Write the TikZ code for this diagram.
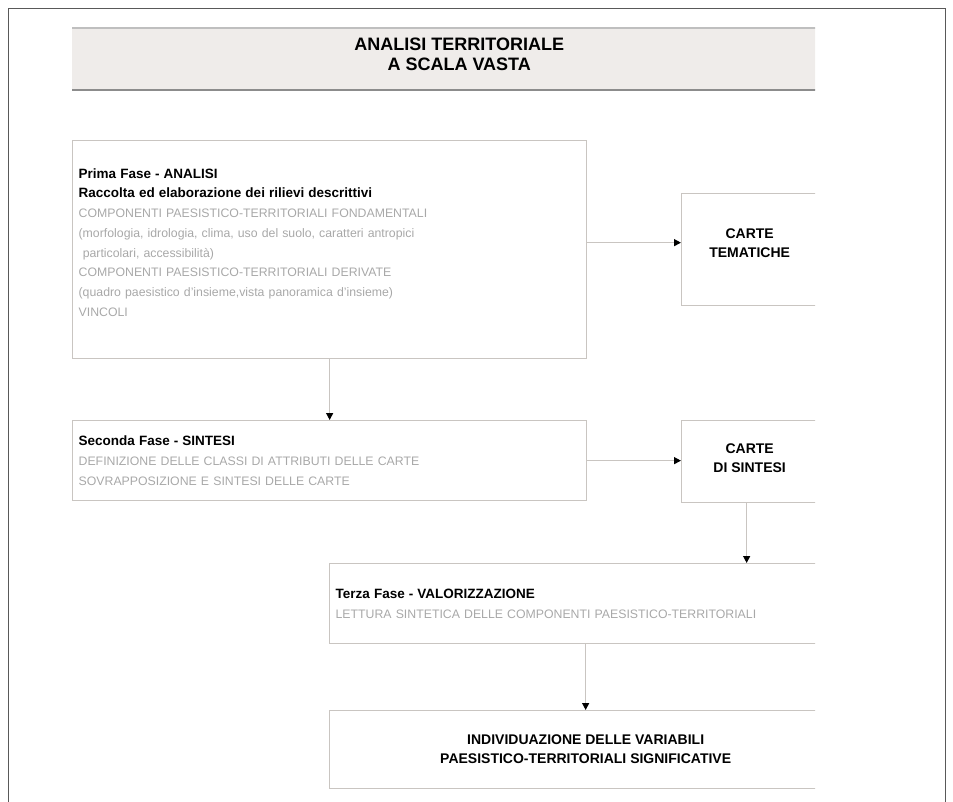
\documentclass[tikz,border=0pt]{standalone}
\usepackage{fontspec}
\setmainfont{Liberation Sans}
\usetikzlibrary{arrows.meta}
\definecolor{boxline}{HTML}{C9C5C1}
\definecolor{softtext}{HTML}{A8A8A8}
\definecolor{headfill}{HTML}{EFECEA}
\newcommand{\fasetesto}[1]{{\bfseries\fontsize{13.5}{19.5}\selectfont #1}}
\newcommand{\voce}[1]{\textcolor{softtext}{#1}}

\begin{document}
\begin{tikzpicture}[x=1pt,y=-1pt,
		fase/.style={draw=boxline,line width=1.3pt,anchor=north west,align=left,
			inner xsep=6pt,font=\fontsize{12.3}{19.7}\selectfont},
		esito/.style={draw=boxline,line width=1.3pt,anchor=north west,align=center,
			font=\bfseries\fontsize{14}{19}\selectfont},
		flow/.style={draw=boxline,line width=1.3pt,-{Triangle[black,length=7pt,width=7pt]}}]
	\useasboundingbox (0,0) rectangle (953,802);
	\draw[black!65,line width=0.8pt] (8,802) -- (8,8) -- (945,8) -- (945,802);
	\begin{scope}
		\clip (0,0) rectangle (815,802);
		\node[fill=headfill,minimum width=774pt,minimum height=62pt,anchor=north west,
			align=center,font=\bfseries\fontsize{18}{20}\selectfont] (titolo) at (72,28)
			{ANALISI TERRITORIALE\\A SCALA VASTA\\[-10pt]\mbox{}};
		\draw[black!25,line width=1.5pt] (titolo.north west) -- (titolo.north east);
		\draw[black!45,line width=2pt] (titolo.south west) -- (titolo.south east);
		\node[fase,text width=502pt,minimum height=218pt] (prima) at (72,140)
			{\fasetesto{Prima Fase - ANALISI}\\
			\fasetesto{Raccolta ed elaborazione dei rilievi descrittivi}\\
			\voce{COMPONENTI PAESISTICO-TERRITORIALI FONDAMENTALI}\\
			\voce{(morfologia, idrologia, clima, uso del suolo, caratteri antropici}\\
			\voce{\ particolari, accessibilità)}\\
			\voce{COMPONENTI PAESISTICO-TERRITORIALI DERIVATE}\\
			\voce{(quadro paesistico d'insieme,vista panoramica d'insieme)}\\
			\voce{VINCOLI}\\[-5pt]\mbox{}};
		\node[esito,minimum width=136pt,minimum height=112pt] (tematiche) at (681,193)
			{CARTE\\TEMATICHE\\[-5pt]\mbox{}};
		\node[fase,text width=502pt,minimum height=80pt] (seconda) at (72,420)
			{\fasetesto{Seconda Fase - SINTESI}\\
			\voce{DEFINIZIONE DELLE CLASSI DI ATTRIBUTI DELLE CARTE}\\
			\voce{SOVRAPPOSIZIONE E SINTESI DELLE CARTE}};
		\node[esito,minimum width=136pt,minimum height=82pt] (sintesi) at (681,420)
			{CARTE\\DI SINTESI\\[-12pt]\mbox{}};
		\node[fase,text width=500pt,minimum height=80pt] (terza) at (329,563)
			{\fasetesto{Terza Fase - VALORIZZAZIONE}\\
			\voce{LETTURA SINTETICA DELLE COMPONENTI PAESISTICO-TERRITORIALI}};
		\node[esito,minimum width=512pt,minimum height=78pt] (variabili) at (329,710)
			{INDIVIDUAZIONE DELLE VARIABILI\\PAESISTICO-TERRITORIALI SIGNIFICATIVE};
	\end{scope}
	\draw[flow] ([yshift=7pt]prima.east) -- ([yshift=7pt]prima.east -| tematiche.west);
	\draw[flow] (prima.south) -- (seconda.north);
	\draw[flow] (seconda.east) -- (seconda.east -| sintesi.west);
	\draw[flow] ([xshift=-3pt]sintesi.south) -- ([xshift=-3pt]sintesi.south |- terza.north);
	\draw[flow] (terza.south) -- (variabili.north);
\end{tikzpicture}
\end{document}
